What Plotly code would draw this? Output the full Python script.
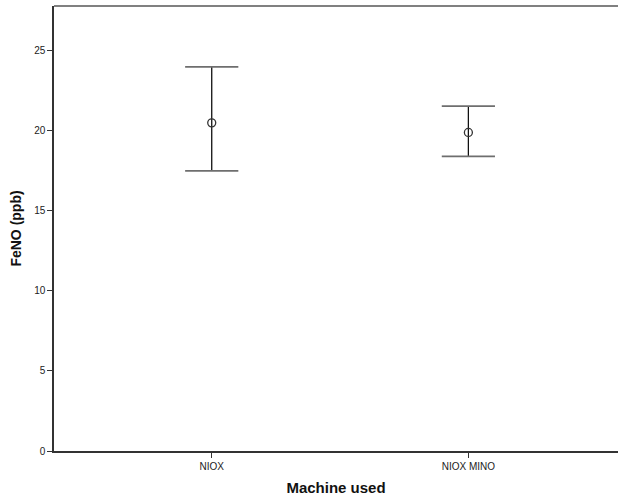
import plotly.graph_objects as go

categories = ["NIOX", "NIOX MINO"]
means = [20.5, 19.9]
upper = [24.0, 21.55]
lower = [17.5, 18.4]
y_ticks = [0, 5, 10, 15, 20, 25]

xpos = list(range(len(categories)))
err_plus = [u - m for u, m in zip(upper, means)]
err_minus = [m - l for m, l in zip(means, lower)]

fig = go.Figure()
fig.add_trace(go.Scatter(
    x=xpos, y=means, mode="markers",
    marker=dict(size=1, color="rgba(0,0,0,0)"),
    error_y=dict(type="data", symmetric=False, array=err_plus, arrayminus=err_minus,
                 color="#111111", thickness=1.3, width=0),
    showlegend=False, hoverinfo="skip"))
fig.add_trace(go.Scatter(
    x=xpos + xpos, y=upper + lower, mode="markers",
    marker=dict(symbol="line-ew", size=38, line=dict(color="#6e6e6e", width=1.8)),
    showlegend=False, hoverinfo="skip"))
fig.add_trace(go.Scatter(
    x=xpos, y=means, mode="markers",
    marker=dict(symbol="circle-open", size=8, color="#333333", line=dict(width=1.3)),
    showlegend=False))

fig.update_layout(
    width=619, height=499,
    margin=dict(l=54, r=1, t=6, b=48),
    paper_bgcolor="white", plot_bgcolor="white",
    font=dict(family="Liberation Sans, Arial, sans-serif", size=10, color="#222222"),
    xaxis=dict(
        range=[-0.6146, 1.583], tickmode="array", tickvals=xpos, ticktext=categories,
        showgrid=False, zeroline=False, showline=True, linecolor="#333333", linewidth=1.5,
        ticks="outside", ticklen=5, tickcolor="#333333",
        title=dict(text="<b>Machine used</b>", font=dict(size=15, color="#111111"), standoff=12),
    ),
    yaxis=dict(
        range=[0, 27.8], tickmode="array", tickvals=y_ticks,
        showgrid=False, zeroline=False, showline=True, linecolor="#333333", linewidth=1.5,
        ticks="outside", ticklen=5, tickcolor="#333333",
        title=dict(text="<b>FeNO (ppb)</b>", font=dict(size=14, color="#111111"), standoff=9),
    ),
    shapes=[dict(type="line", xref="paper", yref="paper", x0=0, x1=1, y0=1, y1=1,
                 line=dict(color="#808080", width=2))],
)

fig.write_html("out.html")
